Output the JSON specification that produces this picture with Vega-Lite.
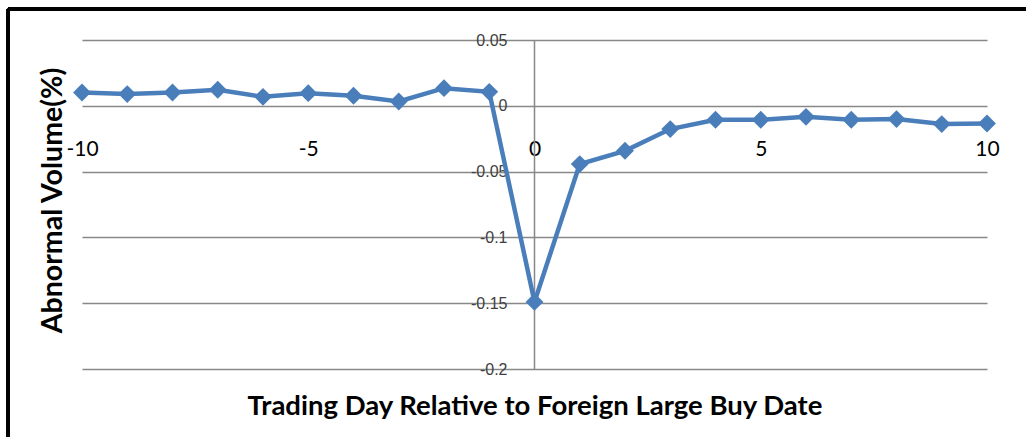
{
  "$schema": "https://vega.github.io/schema/vega-lite/v6.json",
  "width": 905,
  "height": 329,
  "autosize": {"type": "none"},
  "padding": {"left": 82, "top": 40, "right": 39, "bottom": 68},
  "background": "white",
  "config": {"view": {"stroke": null}},
  "data": {
    "values": [
      {"day": -10, "av": 0.0101},
      {"day": -9, "av": 0.0089},
      {"day": -8, "av": 0.0101},
      {"day": -7, "av": 0.0122},
      {"day": -6, "av": 0.0068},
      {"day": -5, "av": 0.0096},
      {"day": -4, "av": 0.0076},
      {"day": -3, "av": 0.0033},
      {"day": -2, "av": 0.0134},
      {"day": -1, "av": 0.0106},
      {"day": 0, "av": -0.149},
      {"day": 1, "av": -0.0443},
      {"day": 2, "av": -0.0342},
      {"day": 3, "av": -0.0177},
      {"day": 4, "av": -0.0106},
      {"day": 5, "av": -0.0106},
      {"day": 6, "av": -0.0084},
      {"day": 7, "av": -0.0106},
      {"day": 8, "av": -0.0101},
      {"day": 9, "av": -0.0139},
      {"day": 10, "av": -0.0134}
    ]
  },
  "encoding": {
    "x": {
      "field": "day",
      "type": "quantitative",
      "scale": {"domain": [-10, 10], "nice": false, "zero": false},
      "axis": {
        "orient": "bottom",
        "offset": -263,
        "values": [-10, -5, 0, 5, 10],
        "labelExpr": "'' + datum.value",
        "domain": false,
        "ticks": false,
        "grid": false,
        "labelFont": "Lato",
        "labelFontSize": 21,
        "labelColor": "#000000",
        "labelPadding": 32,
        "labelFlush": false,
        "labelOverlap": false,
        "title": "Trading Day Relative to Foreign Large Buy Date",
        "titleFont": "Lato",
        "titleFontSize": 27.5,
        "titleFontWeight": "bold",
        "titleColor": "#000000",
        "titleBaseline": "middle",
        "titleAnchor": "middle",
        "titleY": 300
      }
    },
    "y": {
      "field": "av",
      "type": "quantitative",
      "scale": {"domain": [-0.2, 0.05], "nice": false, "zero": false},
      "axis": {
        "orient": "left",
        "offset": -452,
        "values": [0.05, 0, -0.05, -0.1, -0.15, -0.2],
        "labelExpr": "'' + datum.value",
        "domain": true,
        "domainColor": "#888888",
        "domainWidth": 1.5,
        "ticks": false,
        "grid": true,
        "gridColor": "#888888",
        "gridWidth": 1.5,
        "labelFont": "Liberation Sans",
        "labelFontSize": 16,
        "labelColor": "#404040",
        "labelPadding": 27,
        "labelOverlap": false,
        "labelFlush": false,
        "title": "Abnormal Volume(%)",
        "titleFont": "Lato",
        "titleFontSize": 28.5,
        "titleFontWeight": "bold",
        "titleColor": "#000000",
        "titleAngle": 270,
        "titleAlign": "center",
        "titleBaseline": "middle",
        "titleX": -482,
        "titleY": 160
      }
    }
  },
  "layer": [
    {
      "mark": {"type": "line", "color": "#4a7ebb", "strokeWidth": 4.5}
    },
    {
      "mark": {"type": "point", "shape": "diamond", "filled": true, "color": "#4a7ebb", "opacity": 1, "size": 320}
    },
    {
      "mark": {"type": "rule", "color": "#000000", "strokeWidth": 2.5, "clip": false},
      "encoding": {
        "x": {"datum": -11.637},
        "y": {"datum": 0.0735},
        "y2": {"datum": -0.3}
      }
    },
    {
      "mark": {"type": "rule", "color": "#000000", "strokeWidth": 2.5, "clip": false},
      "encoding": {
        "x": {"datum": -11.637},
        "x2": {"datum": 11},
        "y": {"datum": 0.0735}
      }
    }
  ]
}
